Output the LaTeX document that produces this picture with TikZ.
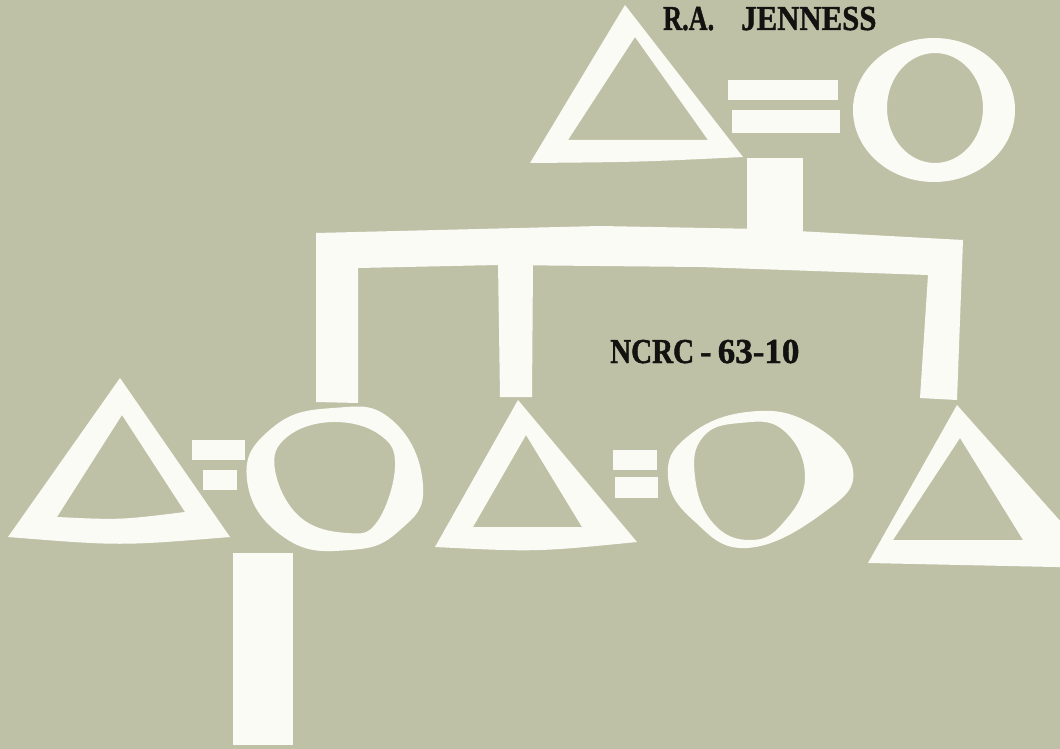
\documentclass[tikz,border=0pt]{standalone}
\usepackage{graphicx}
\usepackage{fontspec}
\setmainfont{Liberation Serif}
\newfontfamily\labelfont[FakeBold=1.3]{Liberation Serif}
\definecolor{bgcol}{RGB}{191,193,166}
\definecolor{papercol}{RGB}{251,251,246}
\definecolor{inkcol}{RGB}{18,18,16}
\tikzset{
  cutout/.style={fill=papercol, draw=none, even odd rule},
  label/.style={inner sep=0pt, text=inkcol, font=\labelfont\bfseries\fontsize{35}{35}\selectfont},
}
\begin{document}
\begin{tikzpicture}[x=1pt,y=-1pt]
\fill[bgcol] (0,0) rectangle (1060,749);
\useasboundingbox (0,0) rectangle (1060,749);
\begin{scope}
\clip (0,0) rectangle (1060,749);
% ---------- top couple ----------
\path[cutout] (625,5) -- (743,157) .. controls (640,162) .. (530,163) -- cycle
              (635,37) -- (568,140) -- (708,140) -- cycle;
\path[cutout] (728,80) rectangle (838,100);
\path[cutout] (732,110) rectangle (840,133);
\path[cutout] (934,110) ellipse [x radius=81, y radius=72]
              (935,108) ellipse [x radius=48, y radius=55];
% stem
\path[cutout] (747,158) rectangle (803,236);
% ---------- sibling bracket ----------
\path[cutout] (316,402) -- (316,233) -- (600,226) -- (760,229) -- (963,240)
              -- (957,400) -- (920,398) -- (928,275) -- (700,267) -- (498,265)
              -- (358,268) -- (358,403) -- cycle;
\path[cutout] (498,262) -- (533,262) -- (532,397) -- (500,397) -- cycle;
% ---------- left couple ----------
\path[cutout] (120,378) -- (230,537) .. controls (120,546) .. (8,537) -- cycle
              (122,415) -- (57,517) .. controls (120,520) .. (185,512) -- cycle;
\path[cutout] (192,440) rectangle (245,460);
\path[cutout] (203,470) rectangle (237,490);
\path[cutout] plot[smooth cycle, tension=0.8] coordinates {(333,408) (392,420) (423,485) (400,530) (350,550) (285,538) (247,480) (272,428)}
              plot[smooth cycle, tension=0.7] coordinates {(333,422) (380,435) (395,467) (377,522) (347,533) (300,517) (275,470) (287,437)};
\path[cutout] (233,553) rectangle (293,745);
% ---------- middle couple ----------
\path[cutout] (518,400) -- (637,542) .. controls (536,552) .. (435,547) -- cycle
              (526,435) -- (473,527) -- (582,527) -- cycle;
\path[cutout] (613,450) rectangle (657,470);
\path[cutout] (615,477) rectangle (658,498);
\path[cutout] plot[smooth cycle, tension=0.75] coordinates {(747,412) (810,423) (853,470) (823,513) (747,548) (693,520) (668,477) (687,437)}
              plot[smooth cycle, tension=0.75] coordinates {(740,423) (783,430) (805,477) (783,523) (750,540) (713,523) (695,477) (703,437)};
% ---------- right sibling ----------
\path[cutout] (957,405) -- (1102,568) -- (868,563) -- cycle
              (960,438) -- (1023,540) -- (893,540) -- cycle;
\end{scope}
% ---------- texts ----------
\node[label, anchor=base west] (author) at (663,30)
  {\scalebox{0.75}[1]{R.A.}\hspace{27pt}\scalebox{0.88}[1]{JENNESS}};
\node[label, anchor=base west] (report) at (610,363)
  {\scalebox{0.83}[1]{NCRC}\hspace{6pt}-\hspace{6pt}63-10};
\end{tikzpicture}
\end{document}
